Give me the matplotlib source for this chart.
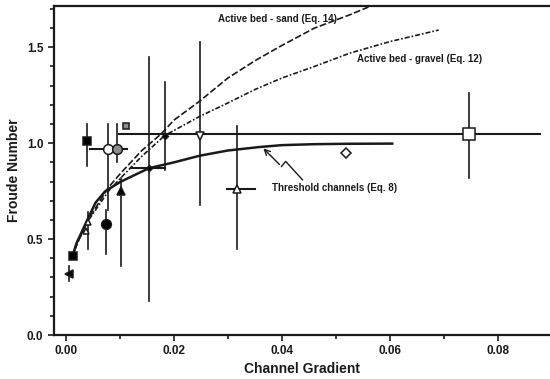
import numpy as np
import matplotlib
matplotlib.use("Agg")
import matplotlib.pyplot as plt

plt.rcParams['font.family'] = ['Liberation Sans', 'DejaVu Sans']

# measured points (channel gradient, Froude number) with ranges, None = no bar
grad = [0.0006, 0.0013, 0.0037, 0.0041, 0.0039, 0.0079, 0.0094, 0.0074,
        0.0102, 0.0112, 0.0154, 0.0183, 0.0248, 0.0316, 0.0518, 0.0747]
froude = [0.32, 0.41, 0.54, 0.59, 1.01, 0.97, 0.97, 0.58,
          0.75, 1.09, 0.87, 1.04, 1.04, 0.76, 0.95, 1.05]
grad_lo = [None, None, None, None, None, 0.0045, 0.0079, None,
           None, None, 0.0121, None, None, 0.0299, None, 0.0099]
grad_hi = [None, None, None, None, None, 0.0094, 0.0113, None,
           None, None, 0.0183, None, None, 0.0351, None, 0.0878]
fr_lo = [0.28, None, None, 0.45, 0.88, 0.65, 0.90, 0.42,
         0.36, None, 0.18, 0.86, 0.68, 0.45, None, 0.82]
fr_hi = [0.36, None, None, 0.64, 1.10, 1.10, 1.10, 0.65,
         0.82, None, 1.45, 1.32, 1.53, 1.09, None, 1.26]

# curves
thr_x = [0.0011, 0.002, 0.0039, 0.0055, 0.0073, 0.0102, 0.0154, 0.020,
         0.0248, 0.030, 0.0358, 0.040, 0.046, 0.052, 0.0604]
thr_y = [0.40, 0.48, 0.595, 0.69, 0.75, 0.80, 0.87, 0.90,
         0.935, 0.962, 0.98, 0.99, 0.995, 0.997, 0.998]
sand_x = [0.0011, 0.002, 0.004, 0.0079, 0.0102, 0.0140, 0.0177, 0.020,
          0.0248, 0.030, 0.035, 0.040, 0.046, 0.0526, 0.056]
sand_y = [0.40, 0.47, 0.595, 0.77, 0.845, 0.96, 1.05, 1.12,
          1.22, 1.34, 1.43, 1.51, 1.60, 1.67, 1.71]
grav_x = [0.0011, 0.002, 0.004, 0.0079, 0.0102, 0.0140, 0.0183, 0.0248,
          0.030, 0.035, 0.040, 0.046, 0.0526, 0.060, 0.069]
grav_y = [0.40, 0.47, 0.59, 0.75, 0.82, 0.93, 1.04, 1.14,
          1.21, 1.28, 1.34, 1.40, 1.47, 1.53, 1.59]

markers = ['<', 's', '^', '^', 's', 'o', 'o', 'o',
           '^', 's', 'D', 'D', 'v', '^', 'D', 's']
faces = ['k', 'k', 'w', 'w', 'k', 'w', '0.55', 'k',
         'k', '0.55', 'k', 'k', 'w', 'w', 'w', 'w']
sizes = [6, 6, 5, 5, 6, 7, 7, 7, 6, 5, 3, 3, 6, 6, 5, 8]

ink = '#1a1a1a'
fig = plt.figure(figsize=(5.5, 3.79), dpi=100)
ax = fig.add_axes([0.098, 0.116, 0.902, 0.868])

ax.plot(sand_x, sand_y, color=ink, lw=1.2, ls=(0, (4, 1.5)))
ax.plot(grav_x, grav_y, color=ink, lw=1.2, ls=(0, (3, 1.2, 1, 1.2)))
ax.plot(thr_x, thr_y, color=ink, lw=1.8)

for i in range(len(grad)):
    if fr_lo[i] is not None:
        ax.plot([grad[i], grad[i]], [fr_lo[i], fr_hi[i]], color=ink, lw=1.2)
    if grad_lo[i] is not None:
        ax.plot([grad_lo[i], grad_hi[i]], [froude[i], froude[i]], color=ink, lw=1.5)
    ax.plot(grad[i], froude[i], marker=markers[i], ms=sizes[i],
            mfc=faces[i], mec=ink, mew=1.1, ls='none', zorder=5)

ax.annotate('', xy=(0.0362, 0.983), xytext=(0.0399, 0.879),
            arrowprops=dict(arrowstyle='->', color=ink, lw=1.0))
ax.plot([0.0399, 0.0407, 0.0438], [0.879, 0.905, 0.809], color=ink, lw=1.0)

fs = 7
ax.text(0.0282, 1.645, 'Active bed - sand (Eq. 14)', fontsize=fs,
        weight='bold', ha='left', va='center', color=ink)
ax.text(0.0538, 1.44, 'Active bed - gravel (Eq. 12)', fontsize=fs,
        weight='bold', ha='left', va='center', color=ink)
ax.text(0.0382, 0.765, 'Threshold channels (Eq. 8)', fontsize=fs,
        weight='bold', ha='left', va='center', color=ink)

ax.set_xlim(-0.0022, 0.0896)
ax.set_ylim(0.0, 1.715)
ax.set_xticks([0.0, 0.02, 0.04, 0.06, 0.08])
ax.set_xticklabels(['0.00', '0.02', '0.04', '0.06', '0.08'], weight='bold')
ax.set_xticks(np.arange(0.01, 0.09, 0.02), minor=True)
ax.set_yticks([0.0, 0.5, 1.0, 1.5])
ax.set_yticklabels(['0.0', '0.5', '1.0', '1.5'], weight='bold')
ax.set_yticks(np.arange(0.1, 1.71, 0.1), minor=True)
ax.tick_params(which='both', direction='out', color=ink, width=1.2,
               labelsize=8.5, labelcolor=ink)
ax.tick_params(which='major', length=4)
ax.tick_params(which='minor', length=3)
for s in ['left', 'bottom', 'top']:
    ax.spines[s].set_linewidth(1.6)
    ax.spines[s].set_color(ink)
ax.spines['right'].set_visible(False)

ax.set_xlabel('Channel Gradient', fontsize=10, weight='bold', color=ink, labelpad=3)
ax.set_ylabel('Froude Number', fontsize=10, weight='bold', color=ink, labelpad=4)

fig.savefig('out.png', dpi=100)
